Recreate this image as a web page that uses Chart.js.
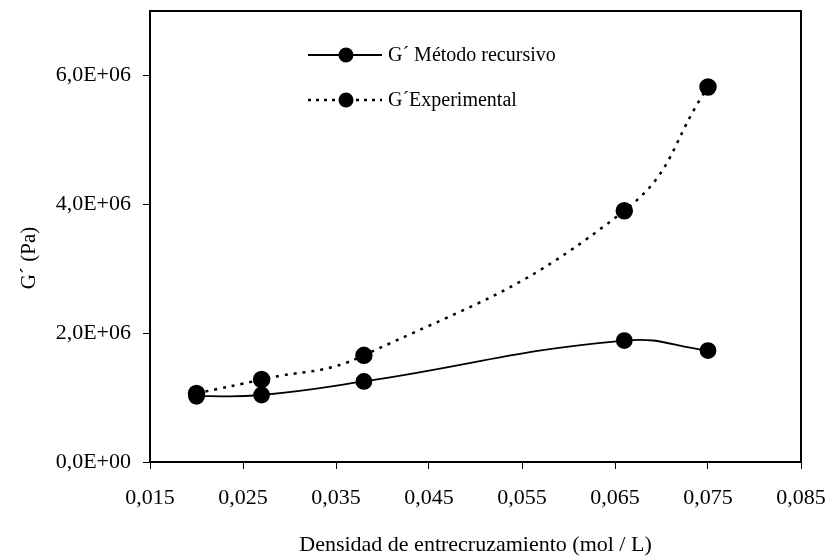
<!DOCTYPE html>
<html>
<head>
<meta charset="utf-8">
<script src="https://cdn.jsdelivr.net/npm/chart.js@4"></script>
<style>
  html, body { margin: 0; padding: 0; background: #fff; }
  #wrap { width: 831px; height: 556px; }
</style>
</head>
<body>
<div id="wrap"><canvas id="gChart"></canvas></div>
<script>
// data
const densidad = [0.020, 0.027, 0.038, 0.066, 0.075];
const gRecursivo = [1.02e6, 1.04e6, 1.25e6, 1.885e6, 1.73e6];
const gExperimental = [1.065e6, 1.28e6, 1.655e6, 3.90e6, 5.82e6];
const legendLabels = ['G\u00B4 M\u00E9todo recursivo', 'G\u00B4Experimental'];
const xTicks = [0.015, 0.025, 0.035, 0.045, 0.055, 0.065, 0.075, 0.085];
const yTicks = [0, 2e6, 4e6, 6e6];
const yTitle = 'G\u00B4 (Pa)';

const FONT = '"Liberation Serif", "Times New Roman", serif';

function toPoints(xs, ys) {
  return xs.map((x, i) => ({ x: x, y: ys[i] }));
}

// frame on top/right, legend inside the plot, y title
const framePlugin = {
  id: 'frame',
  afterDatasetsDraw(chart) {
    const { ctx, chartArea: a } = chart;
    ctx.save();
    ctx.strokeStyle = '#000';
    ctx.lineWidth = 2;
    ctx.beginPath();
    ctx.moveTo(a.left, a.top);
    ctx.lineTo(a.right, a.top);
    ctx.lineTo(a.right, a.bottom);
    ctx.stroke();

    // legend
    const rows = [
      { y: 55, dash: [], text: legendLabels[0] },
      { y: 100, dash: [3, 5], text: legendLabels[1] }
    ];
    rows.forEach(r => {
      ctx.setLineDash(r.dash);
      ctx.lineWidth = r.dash.length ? 2.5 : 1.8;
      ctx.beginPath();
      ctx.moveTo(308, r.y);
      ctx.lineTo(382, r.y);
      ctx.stroke();
      ctx.setLineDash([]);
      ctx.fillStyle = '#000';
      ctx.beginPath();
      ctx.arc(346, r.y, 7.5, 0, Math.PI * 2);
      ctx.fill();
      ctx.font = '20px ' + FONT;
      ctx.textBaseline = 'middle';
      ctx.fillText(r.text, 388, r.y + 1);
    });

    // y axis title, a bit below the plot middle like the original
    ctx.translate(29, 258);
    ctx.rotate(-Math.PI / 2);
    ctx.font = '21px ' + FONT;
    ctx.textAlign = 'center';
    ctx.textBaseline = 'middle';
    ctx.fillText(yTitle, 0, 0);
    ctx.restore();
  }
};

const ctx = document.getElementById('gChart').getContext('2d');
new Chart(ctx, {
  type: 'line',
  data: {
    datasets: [
      {
        label: legendLabels[0],
        data: toPoints(densidad, gRecursivo),
        borderColor: '#000',
        backgroundColor: '#000',
        borderWidth: 1.8,
        pointRadius: 7.5,
        pointHoverRadius: 7.5,
        tension: 0.45
      },
      {
        label: legendLabels[1],
        data: toPoints(densidad, gExperimental),
        borderColor: '#000',
        backgroundColor: '#000',
        borderWidth: 2.5,
        borderDash: [3, 6],
        pointRadius: 7.5,
        pointHoverRadius: 7.5,
        tension: 0.45
      }
    ]
  },
  options: {
    responsive: true,
    maintainAspectRatio: false,
    animation: false,
    layout: { padding: { top: 11, right: 30, left: 0, bottom: 0 } },
    plugins: {
      legend: { display: false },
      tooltip: { enabled: false }
    },
    scales: {
      x: {
        type: 'linear',
        min: 0.015,
        max: 0.085,
        afterBuildTicks: s => { s.ticks = xTicks.map(v => ({ value: v })); },
        afterFit: s => { s.height = 94; s.paddingLeft = 0; s.paddingRight = 0; },
        grid: {
          drawOnChartArea: false,
          drawTicks: true,
          tickLength: 7,
          color: '#000',
          lineWidth: 1
        },
        border: { display: true, color: '#000', width: 2 },
        ticks: {
          color: '#000',
          padding: 16,
          maxRotation: 0,
          autoSkip: false,
          font: { family: FONT, size: 22 },
          callback: v => v.toFixed(3).replace('.', ',')
        },
        title: {
          display: true,
          text: 'Densidad de entrecruzamiento (mol / L)',
          color: '#000',
          font: { family: FONT, size: 22, lineHeight: 1 },
          padding: { top: 0, bottom: 0 }
        }
      },
      y: {
        min: 0,
        max: 7e6,
        afterBuildTicks: s => { s.ticks = yTicks.map(v => ({ value: v })); },
        afterFit: s => { s.width = 150; s.paddingTop = 0; s.paddingBottom = 0; },
        grid: {
          drawOnChartArea: false,
          drawTicks: true,
          tickLength: 7,
          color: '#000',
          lineWidth: 1
        },
        border: { display: true, color: '#000', width: 2 },
        ticks: {
          color: '#000',
          padding: 12,
          autoSkip: false,
          font: { family: FONT, size: 22 },
          callback: v => (v / 1e6).toFixed(1).replace('.', ',') + (v === 0 ? 'E+00' : 'E+06')
        },
        title: { display: false }
      }
    }
  },
  plugins: [framePlugin]
});
</script>
</body>
</html>
